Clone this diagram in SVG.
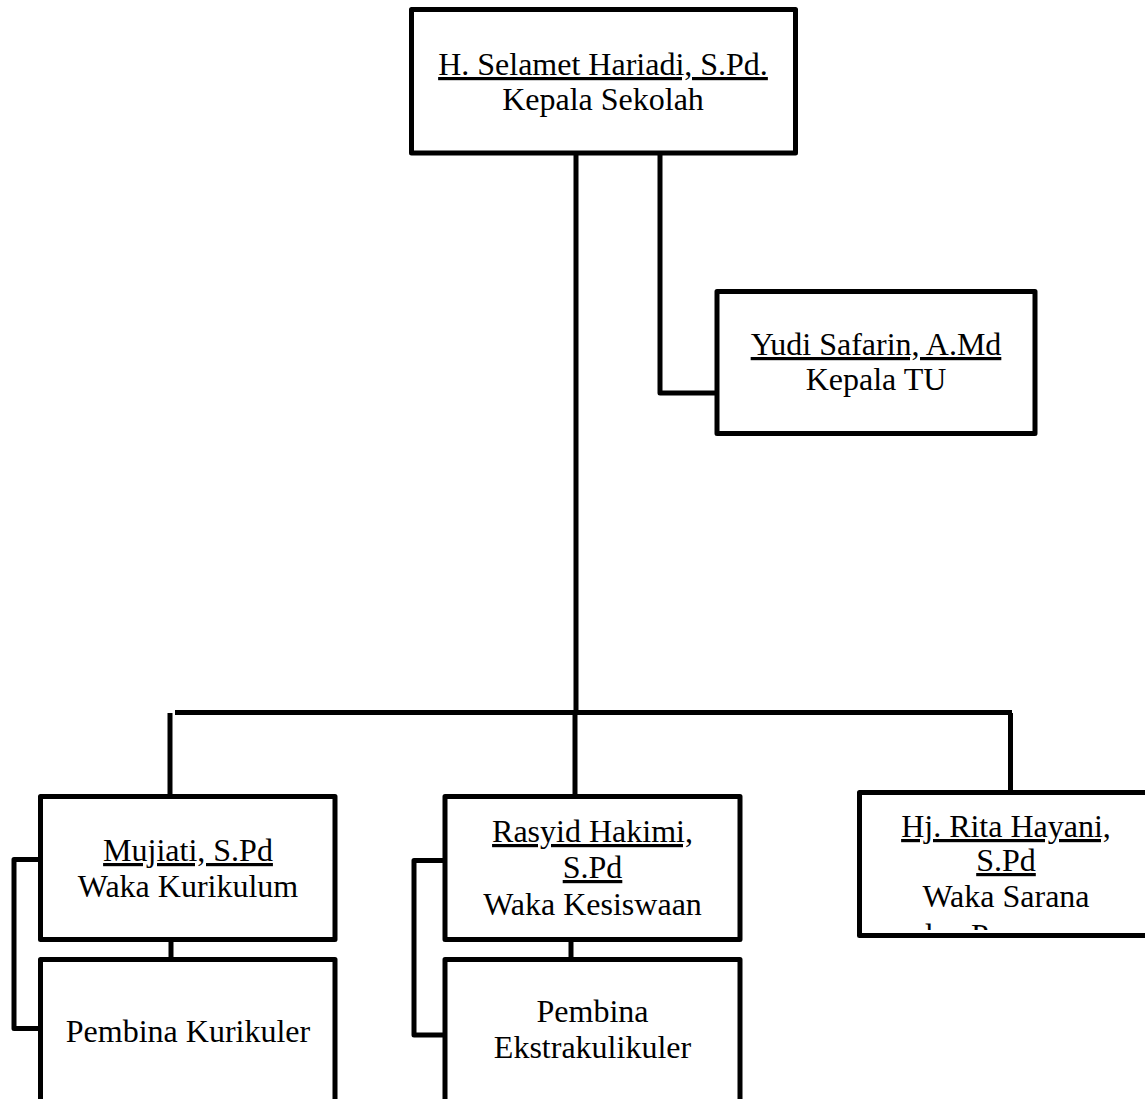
<svg xmlns="http://www.w3.org/2000/svg" width="1145" height="1099" viewBox="0 0 1145 1099">
<style>
.box{fill:#fff;stroke:#000;stroke-width:5;stroke-linejoin:round}
.ln{fill:none;stroke:#000;stroke-width:5;stroke-linejoin:round}
.u{text-decoration:underline}
</style>
<defs>
<clipPath id="ritaClip"><rect x="862" y="795" width="290" height="135"/></clipPath>
</defs>
<rect width="1145" height="1099" fill="#fff"/>
<g id="connectors">
<polyline class="ln" points="660,153 660,393 717,393"/>
<line class="ln" x1="576" y1="153" x2="576" y2="713"/>
<line class="ln" x1="575" y1="712" x2="575" y2="797"/>
<line class="ln" x1="175" y1="712.5" x2="1012" y2="712.5"/>
<line class="ln" x1="170" y1="713" x2="170" y2="797"/>
<line class="ln" x1="1010.5" y1="713" x2="1010.5" y2="793"/>
<line class="ln" x1="171" y1="939" x2="171" y2="960"/>
<line class="ln" x1="571" y1="939" x2="571" y2="960"/>
<polyline class="ln" points="40,859.5 14,859.5 14,1028.5 40,1028.5"/>
<polyline class="ln" points="445,860.5 414,860.5 414,1035 445,1035"/>
</g>
<g font-family="'Liberation Serif', 'Times New Roman', 'DejaVu Serif', serif" font-size="32" fill="#000" text-anchor="middle">
<g id="kepala-sekolah">
<rect class="box" x="411.5" y="9.5" width="384" height="143.5"/>
<text x="603" y="75" class="u">H. Selamet Hariadi, S.Pd.</text>
<text x="603" y="110">Kepala Sekolah</text>
</g>
<g id="kepala-tu">
<rect class="box" x="717" y="291.5" width="318" height="142"/>
<text x="876" y="355" class="u">Yudi Safarin, A.Md</text>
<text x="876" y="390">Kepala TU</text>
</g>
<g id="waka-kurikulum">
<rect class="box" x="40.5" y="796.5" width="294.5" height="143"/>
<text x="188" y="861" class="u">Mujiati, S.Pd</text>
<text x="188" y="897">Waka Kurikulum</text>
</g>
<g id="pembina-kurikuler">
<rect class="box" x="40.5" y="959.5" width="294.5" height="170"/>
<text x="188" y="1042">Pembina Kurikuler</text>
</g>
<g id="waka-kesiswaan">
<rect class="box" x="445" y="796.5" width="295" height="143"/>
<text x="592.5" y="842" class="u">Rasyid Hakimi,</text>
<text x="592.5" y="878" class="u">S.Pd</text>
<text x="592.5" y="915">Waka Kesiswaan</text>
</g>
<g id="pembina-ekstrakulikuler">
<rect class="box" x="445" y="959.5" width="295" height="170"/>
<text x="592.5" y="1022">Pembina</text>
<text x="592.5" y="1058">Ekstrakulikuler</text>
</g>
<g id="waka-sarana">
<rect class="box" x="859.5" y="792.5" width="300" height="143"/>
<g clip-path="url(#ritaClip)">
<text x="1006" y="837" class="u">Hj. Rita Hayani,</text>
<text x="1006" y="871" class="u">S.Pd</text>
<text x="1006" y="907">Waka Sarana</text>
<text x="1006" y="946">dan Prasarana</text>
</g>
</g>
</g>
</svg>
